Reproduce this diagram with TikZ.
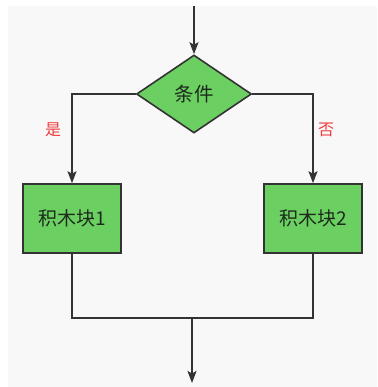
\documentclass[tikz,border=0pt]{standalone}
\usepackage{fontspec}
\setmainfont{Noto Sans CJK SC}
\usetikzlibrary{arrows.meta, positioning, shapes.geometric}
\definecolor{blockgreen}{HTML}{6BCF62}
\definecolor{linegray}{HTML}{333333}
\definecolor{labelred}{HTML}{F03C3C}
\definecolor{paper}{HTML}{F8F8F8}
\tikzset{
x=1pt, y=-1pt,
>={Stealth[length=12pt,width=9pt,inset=2.5pt]},
flow/.style={draw=linegray, line width=1.6pt},
block/.style={draw=linegray, line width=1.6pt, fill=blockgreen, text=linegray!90!green!60!black,
  minimum width=98pt, minimum height=69pt, inner sep=0pt, font=\fontsize{19pt}{22pt}\selectfont},
decision/.style={draw=linegray, line width=1.6pt, fill=blockgreen, text=linegray!90!green!60!black,
  diamond, aspect=1.47, minimum width=115pt, minimum height=78pt, inner sep=0pt,
  font=\fontsize{19.5pt}{22pt}\selectfont},
answer/.style={text=labelred, font=\fontsize{16pt}{18pt}\selectfont},
}
\begin{document}
\begin{tikzpicture}
\useasboundingbox (0,0) rectangle (377,387);
\fill[paper] (8,6) rectangle (377,387);

\coordinate (start) at (194,6);
\node[decision] (cond) at (194,94) {条件};
\node[block] (blk1) at (72,218.5) {积木块1};
\node[block] (blk2) at (313,218.5) {积木块2};
\coordinate (join) at (192,318);
\coordinate (end) at (192,383);

\node[answer] (yes) at (53,130) {是};
\node[answer] (no) at (326,130) {否};

\draw[flow, ->] (start) -- (cond.north);
\draw[flow, ->] (cond.west) -| (blk1.north);
\draw[flow, ->] (cond.east) -| (blk2.north);
\draw[flow] (blk1.south) |- (join) -| (blk2.south);
\draw[flow, ->] (join) -- (end);

\end{tikzpicture}
\end{document}
